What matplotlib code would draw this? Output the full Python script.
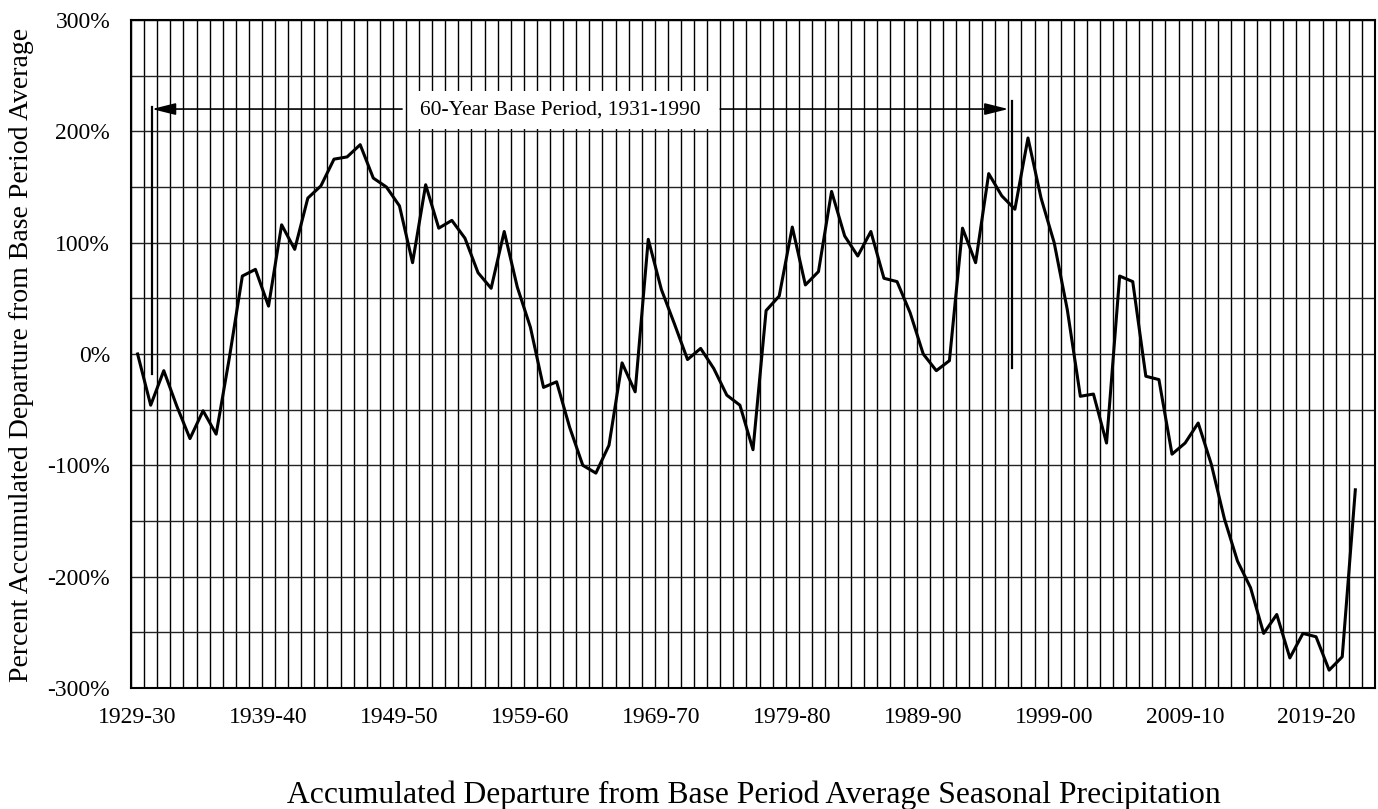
import matplotlib.pyplot as plt
import numpy as np

plt.rcParams['font.family'] = ['Liberation Serif', 'DejaVu Serif']

# water years 1929-30 .. 2022-23
first_year = 1929
departure = [
    0, -46, -15, -47, -76, -51, -72, -4, 70, 76,
    43, 116, 94, 140, 151, 175, 177, 188, 158, 150,
    133, 82, 152, 113, 120, 104, 73, 59, 110, 60,
    24, -30, -25, -66, -100, -107, -82, -8, -34, 103,
    58, 27, -5, 5, -13, -37, -46, -86, 39, 52,
    114, 62, 74, 146, 106, 88, 110, 68, 65, 37,
    0, -15, -6, 113, 82, 162, 142, 130, 194, 140,
    100, 40, -38, -36, -80, 70, 65, -20, -23, -90,
    -80, -62, -99, -148, -186, -210, -251, -234, -273, -251,
    -254, -284, -272, -122,
]
tick_years = [1929, 1939, 1949, 1959, 1969, 1979, 1989, 1999, 2009, 2019]
base_label = "60-Year Base Period, 1931-1990"
base_start_x = 1.1
base_end_x = 66.8

x = np.arange(len(departure))

fig = plt.figure(figsize=(13.78, 8.09), dpi=100)
ax = fig.add_axes([0.0951, 0.1496, 0.9027, 0.8257])

# year grid (cell edges) and 50% horizontal grid
n_cells = len(departure) + 1
for edge in np.arange(-0.5, n_cells, 1.0):
    ax.axvline(edge, color='black', linewidth=1.0, zorder=1)
for level in np.arange(-300, 301, 50):
    ax.axhline(level, color='#222222', linewidth=1.0, zorder=1)

ax.plot(x, departure, color='black', linewidth=2.2, zorder=4)

# base period markers
arrow = dict(arrowstyle='-|>,head_length=0.8,head_width=0.2', color='black', lw=1.2,
             mutation_scale=18, shrinkA=0, shrinkB=0)
ax.plot([base_start_x, base_start_x], [-18, 222], color='black', linewidth=1.6, zorder=3)
ax.plot([base_end_x, base_end_x], [-13, 227], color='black', linewidth=1.6, zorder=3)
ax.annotate('', xy=(base_start_x, 220), xytext=(20.2, 220), arrowprops=arrow, zorder=3)
ax.annotate('', xy=(base_end_x - 0.3, 220), xytext=(44.5, 220), arrowprops=arrow, zorder=3)
ax.text(32.3, 219, base_label, ha='center', va='center', fontsize=15.5, zorder=5,
        bbox=dict(facecolor='white', edgecolor='none', pad=7))

ax.set_xlim(-0.5, n_cells - 0.5)
ax.set_ylim(-300, 300)
ax.set_yticks(np.arange(-300, 301, 100))
ax.set_yticklabels([f"{v}%" for v in range(-300, 301, 100)])
ax.set_xticks([y - first_year for y in tick_years])
ax.set_xticklabels([f"{y}-{(y + 1) % 100:02d}" for y in tick_years])
ax.tick_params(axis='both', length=0, labelsize=17)
ax.tick_params(axis='y', pad=15)
ax.tick_params(axis='x', pad=14)

for spine in ax.spines.values():
    spine.set_linewidth(1.5)
    spine.set_zorder(6)

fig.text(28 / 1378, 1 - 355 / 809, "Percent Accumulated Departure from Base Period Average",
         rotation=90, rotation_mode='anchor', ha='center', va='baseline', fontsize=20)
fig.text(754 / 1378, 1 - 803 / 809,
         "Accumulated Departure from Base Period Average Seasonal Precipitation",
         ha='center', va='baseline', fontsize=22.8)

fig.savefig("out.png", dpi=100)
